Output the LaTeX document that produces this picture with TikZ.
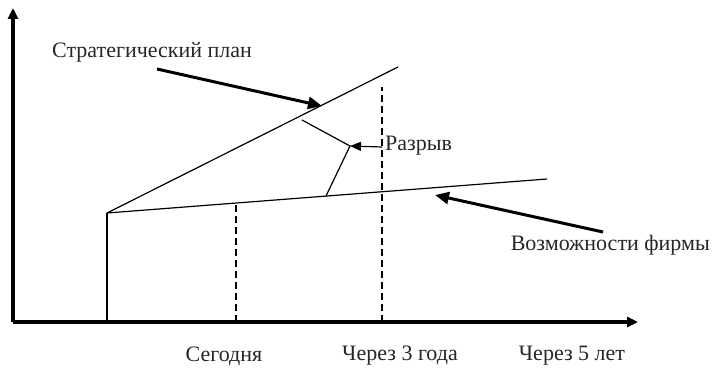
\documentclass[tikz,border=0pt]{standalone}
\usepackage{fontspec}
\setmainfont{Liberation Serif}
\usetikzlibrary{arrows.meta}
\begin{document}
\begin{tikzpicture}[x=1pt,y=-1pt,
  axis/.style={line width=3.2pt,-{Triangle[length=11pt,width=10pt]}},
  thin/.style={line width=1.2pt},
  guide/.style={line width=1.2pt,dash pattern=on 7pt off 4pt},
  callout/.style={line width=3pt,-{Triangle[length=14pt,width=12pt]}},
  gaparrow/.style={line width=1.2pt,-{Triangle[length=11pt,width=9pt]}},
  lbl/.style={font=\fontsize{22}{24}\selectfont,inner sep=0pt,text=black!85}]
\useasboundingbox (0,0) rectangle (712,369);
% axes
\coordinate (O) at (13,322);
\coordinate (ytop) at (13,8);
\coordinate (xend) at (638,322);
\draw[axis] (O) -- (ytop);
\draw[axis] (O) -- (xend);
% start point and the two trend lines
\coordinate (base) at (107,322);
\coordinate (start) at (107,213);
\coordinate (planend) at (398,67);
\coordinate (capend) at (547,179);
\draw[thin] (base) -- (start);
\draw[thin] (start) -- (planend);
\draw[thin] (start) -- (capend);
% time markers
\coordinate (today) at (236,322);
\coordinate (todaytop) at (236,204);
\coordinate (y3) at (382,322);
\coordinate (y3top) at (382,87);
\draw[guide] (today) -- (todaytop);
\draw[guide] (y3) -- (y3top);
% gap bracket
\coordinate (gA) at (302,120);
\coordinate (gB) at (350,146);
\coordinate (gC) at (326,196);
\draw[thin] (gA) -- (gB) -- (gC);
\coordinate (gapfrom) at (382,147);
\draw[gaparrow] (gapfrom) -- (gB);
\node[lbl,anchor=west] (gap) at (385,146) {Разрыв};
% callouts
\node[lbl,anchor=west] (plan) at (52,52) {Стратегический план};
\coordinate (planfrom) at (157,69);
\coordinate (planto) at (322,106);
\draw[callout] (planfrom) -- (planto);
\node[lbl,anchor=east] (cap) at (710,245) {Возможности фирмы};
\coordinate (capfrom) at (603,232);
\coordinate (capto) at (435,195);
\draw[callout] (capfrom) -- (capto);
% time labels
\node[lbl] (lt) at (224,356) {Сегодня};
\node[lbl] (l3) at (400,356) {Через 3 года};
\node[lbl] (l5) at (572,356) {Через 5 лет};
\end{tikzpicture}
\end{document}
